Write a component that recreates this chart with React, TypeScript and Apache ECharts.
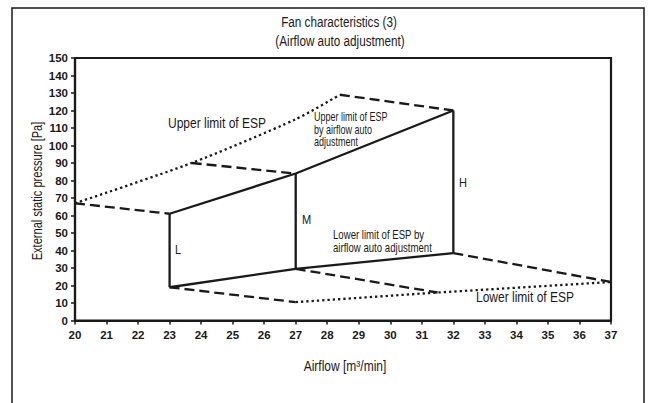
import React, { useEffect, useRef } from "react";
import * as echarts from "echarts";

const xTicks = [20, 37];
const yRange = [0, 150];

// Upper limit of ESP (dotted)
const upperLimit: [number, number][] = [[20, 67], [23.7, 90], [27, 115], [28.4, 129]];
// Lower limit of ESP (dotted)
const lowerLimit: [number, number][] = [[27, 10.5], [31.5, 16], [37, 22]];
// Upper limit by auto adjustment (solid)
const upperAuto: [number, number][] = [[23, 61], [27, 84], [32, 120]];
// Lower limit by auto adjustment (solid)
const lowerAuto: [number, number][] = [[23, 19], [27, 29.5], [32, 38.5]];
// Fan speed verticals L, M, H (solid)
const fanL: [number, number][] = [[23, 61], [23, 19]];
const fanM: [number, number][] = [[27, 84], [27, 29.5]];
const fanH: [number, number][] = [[32, 120], [32, 38.5]];
// Dashed connectors
const dashed: [number, number][][] = [
  [[20, 67], [23, 61]],
  [[23.7, 90], [27, 84]],
  [[28.4, 129], [32, 120]],
  [[23, 19], [27, 10.5]],
  [[27, 29.5], [31.5, 16]],
  [[32, 38.5], [37, 22]],
];

const FONT = "'Liberation Sans', Arial, sans-serif";
const INK = "#1a1a1a";

export default function App() {
  const ref = useRef<HTMLDivElement>(null);
  useEffect(() => {
    if (!ref.current) return;
    const chart = echarts.init(ref.current, null, { renderer: "svg" });
    const line = (data: [number, number][], type: any, width = 2.3, smooth: any = false) => ({
      type: "line",
      data,
      smooth,
      symbol: "none",
      silent: true,
      lineStyle: { color: INK, width, type, cap: "butt" },
    });
    const txt = (text: string, x: number, y: number, size = 15, sx = 0.78, extra: any = {}) => ({
      type: "text",
      x,
      y,
      scaleX: sx,
      style: { text, fontFamily: FONT, fontSize: size, fill: INK, textVerticalAlign: "middle", lineHeight: size, ...extra },
    });
    chart.setOption({
      animation: false,
      backgroundColor: "#fff",
      grid: {
        left: 75,
        right: 37,
        top: 58,
        bottom: 82.5,
        show: true,
        borderColor: INK,
        borderWidth: 2.2,
        backgroundColor: "transparent",
      },
      xAxis: {
        type: "value",
        min: xTicks[0],
        max: xTicks[1],
        interval: 1,
        axisLine: { lineStyle: { color: INK, width: 2.2 } },
        axisTick: { show: true, length: 4, lineStyle: { color: INK, width: 1.5 } },
        axisLabel: { color: INK, fontFamily: FONT, fontWeight: "bold", fontSize: 11.5, margin: 8 },
        splitLine: { show: false },
      },
      yAxis: {
        type: "value",
        min: yRange[0],
        max: yRange[1],
        interval: 10,
        axisLine: { show: true, lineStyle: { color: INK, width: 2.2 } },
        axisTick: { show: true, length: 4, lineStyle: { color: INK, width: 1.5 } },
        axisLabel: { color: INK, fontFamily: FONT, fontWeight: "bold", fontSize: 11.5, margin: 7 },
        splitLine: { show: false },
      },
      graphic: [
        { type: "rect", shape: { x: 12, y: 8, width: 632, height: 420 }, style: { fill: "none", stroke: INK, lineWidth: 1.5 }, silent: true },
        txt("Fan characteristics (3)", 339, 22, 15, 0.78, { textAlign: "center" }),
        txt("(Airflow auto adjustment)", 340, 41, 15, 0.78, { textAlign: "center" }),
        txt("Airflow [m³/min]", 345, 366, 15, 0.8, { textAlign: "center" }),
        {
          type: "text",
          x: 37,
          y: 191,
          rotation: Math.PI / 2,
          scaleX: 0.74,
          style: { text: "External static pressure [Pa]", fontFamily: FONT, fontSize: 15, fill: INK, textAlign: "center", textVerticalAlign: "middle" },
        },
        txt("Upper limit of ESP", 168, 123, 15, 0.8),
        txt("Upper limit of ESP\nby airflow auto\nadjustment", 314, 129, 12.5, 0.72, { lineHeight: 12.5 }),
        txt("L", 175, 250, 13, 0.85),
        txt("M", 302, 220, 13, 0.85),
        txt("H", 459, 183, 13, 0.85),
        txt("Lower limit of ESP by\nairflow auto adjustment", 333, 241, 13, 0.74, { lineHeight: 12.5 }),
        txt("Lower limit of ESP", 476, 297, 15, 0.8),
      ],
      series: [
        line(upperLimit, [2.3, 3], 2.3, 0.25),
        line(lowerLimit, [2.3, 3], 2.3),
        line(upperAuto, "solid"),
        line(lowerAuto, "solid"),
        line(fanL, "solid"),
        line(fanM, "solid"),
        line(fanH, "solid"),
        ...dashed.map((d) => line(d, [10, 5])),
      ],
    });
    return () => chart.dispose();
  }, []);
  return <div ref={ref} style={{ width: 648, height: 403, position: "absolute", left: 0, top: 0 }} />;
}
